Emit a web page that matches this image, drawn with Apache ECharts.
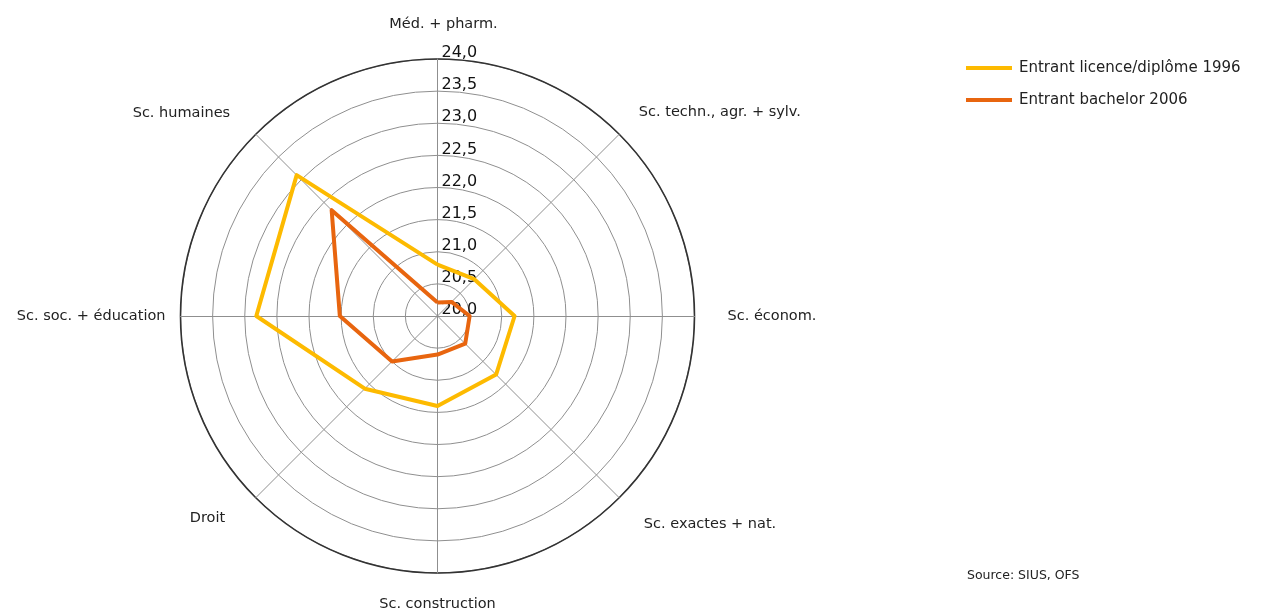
<!DOCTYPE html>
<html lang="fr">
<head>
    <meta charset="UTF-8">
    <title>Radar - âge d'entrée</title>
    <script src="https://cdn.jsdelivr.net/npm/echarts@6/dist/echarts.min.js"></script>
    <style>
        html, body { margin: 0; padding: 0; background: #fff; }
        #chart { width: 1265px; height: 612px; }
    </style>
</head>
<body>
    <div id="chart"></div>
    <script>
        // axes du radar, dans l'ordre de dessin (sens anti-horaire depuis le haut)
        const categories = ['Méd. + pharm.', 'Sc. humaines', 'Sc. soc. + éducation', 'Droit',
            'Sc. construction', 'Sc. exactes + nat.', 'Sc. économ.', 'Sc. techn., agr. + sylv.'];
        const seriesNames = ['Entrant licence/diplôme 1996', 'Entrant bachelor 2006'];
        const values1996 = [20.8, 23.1, 22.82, 21.6, 21.4, 21.29, 21.2, 20.81];
        const values2006 = [20.21, 22.33, 21.52, 21.0, 20.6, 20.61, 20.5, 20.31];
        const scaleMin = 20;
        const scaleMax = 24;
        const scaleStep = 0.5;

        const center = [437.5, 316];
        const radius = 257;
        const font = '"DejaVu Sans", sans-serif';

        // petits décalages des libellés d'axes (padding haut, droite, bas, gauche)
        const namePad = [
            [0, 0, 12, 12], [0, 15, 20, 0], [0, 0, 0, 0], [20, 20, 0, 0],
            [9, 0, 0, 0], [32, 0, 0, 14], [0, 0, 0, 18], [0, 0, 22, 9]
        ];
        const rich = {};
        namePad.forEach((p, i) => {
            rich['n' + i] = { fontFamily: font, fontSize: 14.5, color: '#222', padding: p };
        });

        const chart = echarts.init(document.getElementById('chart'));
        chart.setOption({
            animation: false,
            title: {
                text: 'Source: SIUS, OFS',
                left: 962,
                top: 564,
                textStyle: { fontFamily: font, fontSize: 12.5, fontWeight: 'normal', color: '#222' }
            },
            legend: {
                orient: 'vertical',
                left: 961,
                top: 54,
                itemWidth: 46,
                itemHeight: 4,
                itemGap: 14,
                icon: 'rect',
                textStyle: { fontFamily: font, fontSize: 15, color: '#222', padding: [0, 0, 0, 2], lineHeight: 18 },
                data: seriesNames
            },
            radar: {
                center: center,
                radius: radius,
                shape: 'circle',
                splitNumber: 8,
                nameGap: 15,
                axisName: {
                    color: '#222',
                    fontFamily: font,
                    fontSize: 14.5,
                    formatter: name => '{n' + categories.indexOf(name) + '|' + name + '}',
                    rich: rich
                },
                axisLine: { lineStyle: { color: '#8f8f8f', width: 1 } },
                splitLine: { lineStyle: { color: '#8f8f8f', width: 1 } },
                splitArea: { show: false },
                indicator: categories.map(c => ({ name: c, min: scaleMin, max: scaleMax }))
            },
            polar: { center: center, radius: radius },
            angleAxis: {
                type: 'value',
                startAngle: 90,
                axisLine: { show: true, lineStyle: { color: '#333', width: 1.6 } },
                axisTick: { show: false },
                axisLabel: { show: false },
                splitLine: { show: false }
            },
            radiusAxis: {
                min: scaleMin,
                max: scaleMax,
                interval: scaleStep,
                axisLine: { show: false },
                axisTick: { show: false },
                splitLine: { show: false },
                axisLabel: {
                    fontFamily: font,
                    fontSize: 16,
                    color: '#111',
                    align: 'left',
                    verticalAlign: 'bottom',
                    lineHeight: 12,
                    margin: -4,
                    formatter: v => v.toFixed(1).replace('.', ',')
                }
            },
            series: [{
                type: 'radar',
                symbol: 'none',
                data: [
                    { name: seriesNames[0], value: values1996,
                      lineStyle: { color: '#FDBA00', width: 4 }, itemStyle: { color: '#FDBA00' } },
                    { name: seriesNames[1], value: values2006,
                      lineStyle: { color: '#E8650F', width: 4 }, itemStyle: { color: '#E8650F' } }
                ]
            }]
        });
    </script>
</body>
</html>
